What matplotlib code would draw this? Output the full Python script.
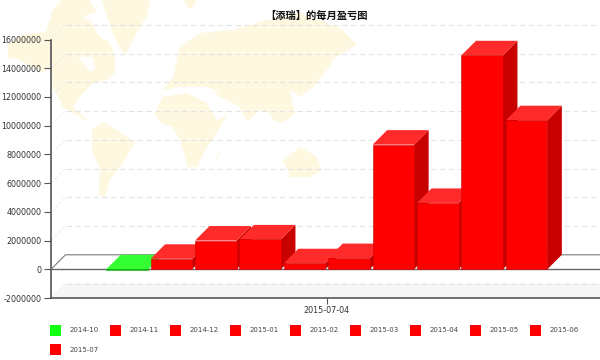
import matplotlib
matplotlib.use('Agg')
import matplotlib.pyplot as plt
from matplotlib.patches import Polygon, Rectangle
import numpy as np

months = ['2014-10', '2014-11', '2014-12', '2015-01', '2015-02',
          '2015-03', '2015-04', '2015-05', '2015-06', '2015-07']
profits = [-60000, 730000, 2000000, 2080000, 420000,
           780000, 8680000, 4620000, 14900000, 10380000]
y_ticks = [-2000000, 0, 2000000, 4000000, 6000000, 8000000,
           10000000, 12000000, 14000000, 16000000]
date_label = '2015-07-04'
title = '【添瑞】的每月盈亏图'

W, H = 600, 360
MAP = '#fef8e1'
AXIS = '#555555'

# background world map, outlines in pixels
continents = [
    [(8, 44), (25, 34), (46, 32), (49, 22), (65, 12), (90, 20), (100, 37), (110, 43), (115, 57), (115, 72),
     (107, 80), (93, 83), (80, 97), (73, 107), (90, 122), (80, 117), (63, 107), (53, 87), (50, 67), (43, 73),
     (20, 60), (8, 57)],
    [(48, 28), (52, 10), (62, 0), (90, 0), (96, 12), (75, 20), (60, 30)],
    [(102, 0), (150, 0), (148, 13), (133, 40), (125, 55), (117, 43), (107, 17)],
    [(92, 130), (103, 122), (120, 132), (135, 142), (123, 163), (110, 180), (105, 197), (99, 195), (100, 170), (92, 150)],
    [(155, 113), (163, 97), (187, 93), (207, 103), (217, 120), (227, 115), (217, 133), (207, 147), (197, 167),
     (188, 167), (180, 140), (173, 127), (160, 123)],
    [(163, 90), (173, 77), (180, 47), (200, 33), (233, 30), (267, 20), (300, 13), (340, 28), (357, 44), (343, 53),
     (333, 60), (327, 70), (313, 87), (300, 97), (290, 90), (295, 113), (283, 123), (273, 120), (270, 113),
     (260, 110), (247, 122), (240, 107), (220, 97), (207, 87), (180, 87)],
    [(283, 160), (300, 147), (317, 157), (322, 170), (310, 177), (290, 177)],
    [(215, 160), (222, 147), (218, 158)],
    [(183, 0), (197, 0), (190, 10)],
]
white_holes = [
    [(78, 57), (93, 57), (95, 70), (90, 72)],
    [(175, 87), (205, 87), (220, 92), (200, 90)],
]

fig = plt.figure(figsize=(W / 100, H / 100), dpi=100)
plt.rcParams['font.family'] = ['DejaVu Sans']

bg = fig.add_axes([0, 0, 1, 1], zorder=0)
bg.set_xlim(0, W)
bg.set_ylim(H, 0)
bg.axis('off')
for pts in continents:
    bg.add_patch(Polygon(pts, closed=True, fc=MAP, ec='none'))
for pts in white_holes:
    bg.add_patch(Polygon(pts, closed=True, fc='white', ec='none'))

# main axes: 0 at y=268.5, 16M at y=39.5
left, right, top, bottom = 51, 600, 39.5, 298
ax = fig.add_axes([left / W, 1 - bottom / H, (right - left) / W, (bottom - top) / H], zorder=1)
ax.patch.set_alpha(0)
slot = 44.4
ax.set_xlim((left - 127) / slot, (right - 127) / slot)
ax.set_ylim(-2000000, 16000000)

px_y = 18000000 / (bottom - top)
dx = 14.5 / slot
dy = 14.5 * px_y
x0 = ax.get_xlim()[0]
x1 = ax.get_xlim()[1]

# floor of the negative zone
ax.add_patch(Polygon([(x0, -2000000), (x0 + dx, -2000000 + dy), (x1, -2000000 + dy), (x1, -2000000)],
                     closed=True, fc='#f7f7f7', ec='none', zorder=1))

# back wall grid lines with their diagonals
for t in y_ticks:
    if t == 0:
        continue
    ax.plot([x0 + dx, x1], [t + dy, t + dy], color='#e4e4e4', lw=0.8, ls=(0, (5, 3)), zorder=2, clip_on=False)
    ax.plot([x0, x0 + dx], [t, t + dy], color='#eeeeee', lw=0.8, ls=(0, (3, 2)), zorder=2, clip_on=False)

# zero plane
ax.add_patch(Polygon([(x0, 0), (x0 + dx, dy), (x1, dy), (x1, 0)], closed=True, fc='white', ec='none', zorder=2))
ax.plot([x0, x0 + dx, x1], [0, dy, dy], color='#888888', lw=0.9, zorder=3)
ax.plot([x0, x1], [0, 0], color='#666666', lw=1.0, zorder=3)

# bars, left to right so each one covers the side of the previous
width = 41.5 / slot
for i, (m, v) in enumerate(zip(months, profits)):
    z = 4 + i
    if i == 0:
        front, toph, side = '#11ee11', '#33ff33', '#00bb00'
    else:
        front, toph, side = '#ff0000', '#ff2a2a', '#c80000'
    xl, xr = i - width / 2, i + width / 2
    ax.add_patch(Polygon([(xr, 0), (xr + dx, dy), (xr + dx, v + dy), (xr, v)], closed=True,
                         fc=side, ec='none', zorder=z, clip_on=False))
    if i == 0:
        # negative bar: its top face sits on the zero plane
        ax.add_patch(Polygon([(xl, 0), (xl + dx, dy), (xr + dx, dy), (xr, 0)], closed=True,
                             fc=toph, ec='none', zorder=z, clip_on=False))
    else:
        ax.add_patch(Polygon([(xl, v), (xl + dx, v + dy), (xr + dx, v + dy), (xr, v)], closed=True,
                             fc=toph, ec='none', zorder=z, clip_on=False))
    ax.bar(i, v, width=width, color=front, edgecolor='#d00000' if i else '#00aa00', linewidth=0.4, zorder=z)

for s in ['top', 'right']:
    ax.spines[s].set_visible(False)
for s in ['left', 'bottom']:
    ax.spines[s].set_color(AXIS)
    ax.spines[s].set_linewidth(1.2)
ax.set_yticks(y_ticks)
ax.set_yticklabels([str(t) for t in y_ticks], fontsize=5.8, color='#333333')
ax.tick_params(axis='y', length=5, width=0.8, color=AXIS, pad=2)
ax.set_xticks([4.5])
ax.set_xticklabels([date_label], fontsize=5.8, color='#333333')
ax.tick_params(axis='x', length=4, width=0.8, color=AXIS, pad=2)

fig.text(317 / W, 1 - 16 / H, title, ha='center', va='center', fontsize=7.4, fontweight='bold',
         family=['Noto Sans CJK SC', 'DejaVu Sans'], color='#111111')

# legend, nine per row
for i, m in enumerate(months):
    row, col = divmod(i, 9)
    lx = 50 + col * 60
    ly = 330 + row * 19
    c = '#11ff11' if i == 0 else '#ff0000'
    bg.add_patch(Rectangle((lx, ly - 5.5), 11, 11, fc=c, ec='none'))
    bg.text(lx + 20, ly + 0.5, m, fontsize=5.0, color='#444444', ha='left', va='center')

fig.savefig('out.png', dpi=100)
